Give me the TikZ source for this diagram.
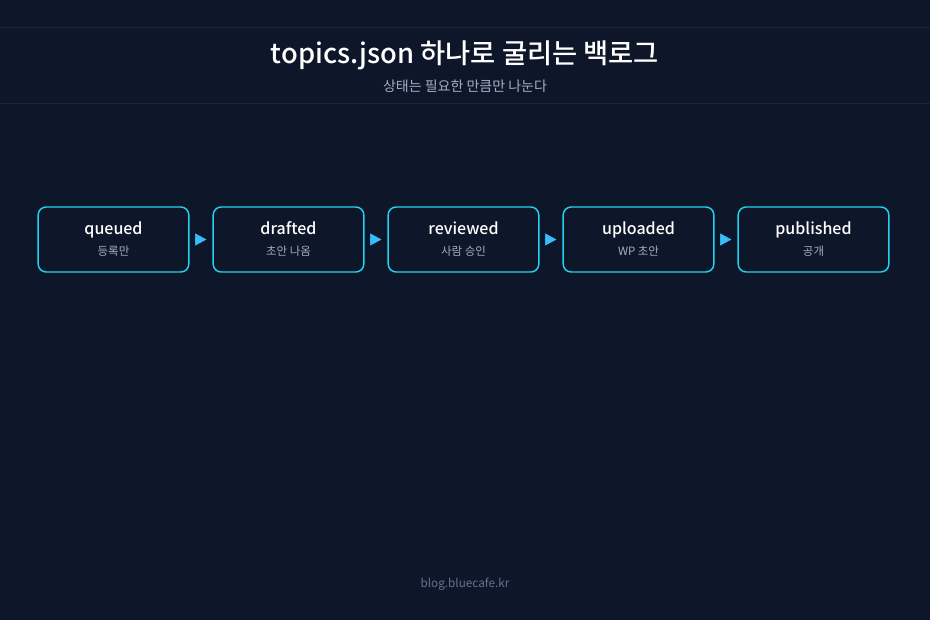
\documentclass[tikz,border=0pt]{standalone}
\usepackage{fontspec}
\setmainfont{Noto Sans CJK KR}
\newfontfamily\medfont{Noto Sans CJK KR Medium}
\usetikzlibrary{positioning,arrows.meta}
\definecolor{bgnavy}{HTML}{0E1629}
\definecolor{rulegray}{HTML}{1C2638}
\definecolor{boxcyan}{HTML}{22D3EE}
\definecolor{tipblue}{HTML}{38BDF8}
\definecolor{subgray}{HTML}{A3AEC2}
\definecolor{footgray}{HTML}{64748B}

\begin{document}
\begin{tikzpicture}[x=0.75pt,y=-0.75pt,
    stagebox/.style={draw=boxcyan,line width=1.1pt,rounded corners=6pt,fill=bgnavy,
        minimum width=113pt,minimum height=48.75pt,inner sep=0pt,align=center},
    flow/.style={-{Triangle[length=8.5pt,width=9pt]},tipblue,shorten <=5pt,shorten >=4.5pt}]
        \useasboundingbox (0,0) rectangle (930,620);
        \fill[bgnavy] (-4,-4) rectangle (934,624);
        \draw[rulegray,line width=0.75pt] (0,28)--(930,28);
        \draw[rulegray,line width=0.75pt] (0,104)--(930,104);
        % heading
        \node[white,anchor=base,font=\medfont\fontsize{20.5}{24}\selectfont] (title) at (465,64) {topics.json 하나로 굴리는 백로그};
        \node[subgray,anchor=base,font=\fontsize{10.5}{12}\selectfont] (subtitle) at (465,92) {상태는 필요한 만큼만 나눈다};
        % stages
        \node[stagebox] (queued) at (113.5,239.5) {};
        \node[stagebox,right=17.15pt of queued] (drafted) {};
        \node[stagebox,right=17.15pt of drafted] (reviewed) {};
        \node[stagebox,right=17.15pt of reviewed] (uploaded) {};
        \node[stagebox,right=17.15pt of uploaded] (published) {};
        \foreach \s/\t/\u in {queued/queued/등록만, drafted/drafted/초안 나옴, reviewed/reviewed/사람 승인,
                uploaded/uploaded/WP 초안, published/published/공개}{
            \node[white,anchor=base,font=\medfont\fontsize{12}{14}\selectfont] at ([yshift=3.6pt]\s.center) {\t};
            \node[subgray,anchor=base,font=\fontsize{8.6}{10}\selectfont] at ([yshift=-12.2pt]\s.center) {\u};
        }
        \draw[flow] (queued.east)--(drafted.west);
        \draw[flow] (drafted.east)--(reviewed.west);
        \draw[flow] (reviewed.east)--(uploaded.west);
        \draw[flow] (uploaded.east)--(published.west);

        \node[footgray,anchor=base,font=\fontsize{8.8}{11}\selectfont] (footer) at (465,587) {blog.bluecafe.kr};
    \end{tikzpicture}
\end{document}
